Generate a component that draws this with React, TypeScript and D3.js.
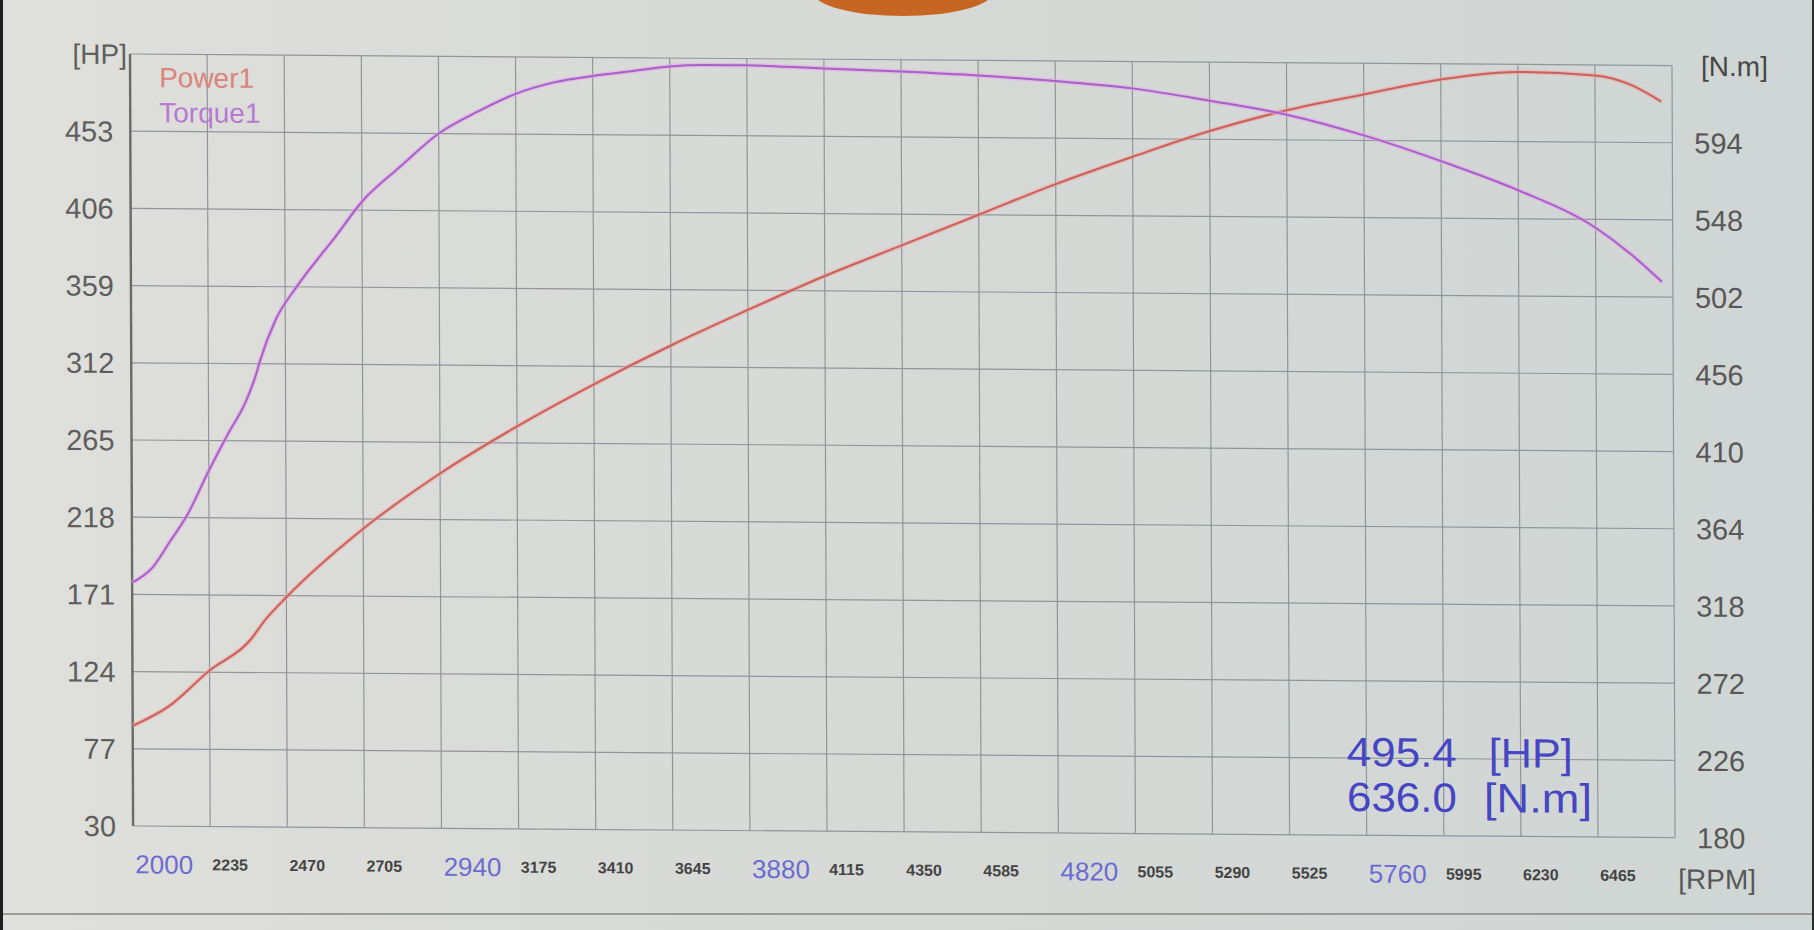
import React from 'react';
import * as d3 from 'd3';

// ---- data read from the dyno sheet ----
const rpmTicks = [2000, 2235, 2470, 2705, 2940, 3175, 3410, 3645, 3880, 4115, 4350, 4585, 4820, 5055, 5290, 5525, 5760, 5995, 6230, 6465];
const rpmMajor = [2000, 2940, 3880, 4820, 5760];
const hpTicks = [30, 77, 124, 171, 218, 265, 312, 359, 406, 453];
const nmTicks = [180, 226, 272, 318, 364, 410, 456, 502, 548, 594];

const rpmPower = [2000, 2110, 2235, 2356, 2409, 2470, 2705, 2940, 3175, 3410, 3645, 3880, 4115, 4350, 4585, 4820, 5055, 5290, 5525, 5760, 5995, 6230, 6465, 6569, 6667];
const powerHP = [91, 103, 125, 143, 157, 170, 212, 246, 275, 301, 325, 347, 368, 387, 406, 425, 442, 458, 471, 481, 490.5, 495.4, 493.6, 488.5, 478];

const rpmTorque = [2000, 2062, 2117, 2170, 2235, 2294, 2350, 2381, 2393, 2440, 2505, 2583, 2620, 2705, 2822, 2940, 3057, 3175, 3292, 3410, 3527, 3645, 3760, 3880, 4000, 4115, 4350, 4585, 4820, 5055, 5290, 5525, 5760, 5995, 6230, 6465, 6569, 6667];
const torqueNm = [325, 334, 350, 366, 392, 414, 434, 450, 458, 482, 502, 522, 531, 553, 574, 594, 607, 618, 625, 629, 632, 635, 636, 636, 635.3, 634.5, 633, 631, 628, 624, 617, 609, 597, 582, 565, 543, 528, 511];

const seriesNames = ['Power1', 'Torque1'];
const peakHP = '495.4';
const peakNm = '636.0';

const FONT = 'Liberation Sans, Arial, sans-serif';

export default function App() {
  const Wd = 1814;
  const Ht = 930;
  const W = 1542;
  const H = 772;
  const rpmMax = 6700;

  const x = d3.scaleLinear().domain([2000, rpmMax]).range([0, W]);
  const yHP = d3.scaleLinear().domain([30, 500]).range([H, 0]);
  const yNm = d3.scaleLinear().domain([180, 640]).range([H, 0]);

  const powerPath = d3
    .line<number>()
    .x((_, i) => x(rpmPower[i]))
    .y((d) => yHP(d))
    .curve(d3.curveMonotoneX)(powerHP) as string;
  const torquePath = d3
    .line<number>()
    .x((_, i) => x(rpmTorque[i]))
    .y((d) => yNm(d))
    .curve(d3.curveMonotoneX)(torqueNm) as string;

  const vGrid = [...rpmTicks, rpmMax];
  const hGrid = [...hpTicks, 500];

  const powerCol = '#c9625c';
  const torqueCol = '#a662c4';
  const gridCol = '#90969a';
  const readCol = '#4646c4';

  return (
    <svg
      width={Wd}
      height={Ht}
      style={{ position: 'absolute', left: 0, top: 0, display: 'block' }}
    >
      <defs>
        <linearGradient id="bg" x1="0" y1="0" x2="1" y2="0">
          <stop offset="0" stopColor="#dfdfdb" />
          <stop offset="0.5" stopColor="#d6d9d6" />
          <stop offset="1" stopColor="#d0d6d5" />
        </linearGradient>
      </defs>
      <rect x={0} y={0} width={Wd} height={Ht} fill="url(#bg)" />
      <ellipse cx={903} cy={-8} rx={90} ry={24} fill="#c76623" />
      <line x1={0} x2={Wd} y1={914} y2={914} stroke="#9a9c9a" strokeWidth={2} />
      <rect x={0} y={0} width={3} height={Ht} fill="#1e1e1e" />
      <rect x={Wd - 2} y={0} width={2} height={Ht} fill="#2a2a2a" />

      <g transform="matrix(1,0.0075,0.004,1,130,54)">
        {/* grid */}
        {vGrid.map((r) => (
          <line
            key={'v' + r}
            x1={x(r)}
            x2={x(r)}
            y1={0}
            y2={H}
            stroke={gridCol}
            strokeWidth={1.2}
          />
        ))}
        {hGrid.map((v) => (
          <line
            key={'h' + v}
            x1={0}
            x2={W}
            y1={yHP(v)}
            y2={yHP(v)}
            stroke={gridCol}
            strokeWidth={1.2}
          />
        ))}
        <line x1={0} x2={0} y1={0} y2={H} stroke="#6a6a6a" strokeWidth={2.4} />

        {/* curves */}
        <path d={powerPath} fill="none" stroke="#f0a4a0" strokeOpacity={0.6} strokeWidth={4.5} />
        <path d={powerPath} fill="none" stroke={powerCol} strokeWidth={2} />
        <path d={torquePath} fill="none" stroke="#e6a2ec" strokeOpacity={0.6} strokeWidth={4.5} />
        <path d={torquePath} fill="none" stroke={torqueCol} strokeWidth={2} />

        {/* left axis labels */}
        {hpTicks.map((v) => (
          <text
            key={'hl' + v}
            x={-17}
            y={yHP(v)}
            dy="0.36em"
            textAnchor="end"
            fontFamily={FONT}
            fontSize={29}
            fill="#5e5e5e"
          >
            {v}
          </text>
        ))}
        <text x={-3} y={yHP(500)} dy="0.36em" textAnchor="end" fontFamily={FONT} fontSize={28} fill="#5e5e5e">
          [HP]
        </text>

        {/* right axis labels */}
        {nmTicks.map((v) => (
          <text
            key={'nl' + v}
            x={W + 22}
            y={yNm(v)}
            dy="0.36em"
            textAnchor="start"
            fontFamily={FONT}
            fontSize={29}
            fill="#585858"
          >
            {v}
          </text>
        ))}
        <text x={W + 29} y={yNm(640)} dy="0.36em" fontFamily={FONT} fontSize={28} fill="#474747">
          [N.m]
        </text>

        {/* x axis labels */}
        {rpmTicks.map((r) => {
          const major = rpmMajor.includes(r);
          return (
            <text
              key={'xl' + r}
              x={x(r) + 2}
              y={H + 38}
              dy="0.36em"
              fontFamily={FONT}
              fontSize={major ? 26 : 16}
              fontWeight={major ? 'normal' : 'bold'}
              fill={major ? '#6b6bd2' : '#444'}
            >
              {r}
            </text>
          );
        })}
        <text x={W + 3} y={H + 41} dy="0.36em" fontFamily={FONT} fontSize={28} fill="#585858">
          [RPM]
        </text>

        {/* legend */}
        <text x={29} y={33} fontFamily={FONT} fontSize={28} fill="#d9847c">
          {seriesNames[0]}
        </text>
        <text x={29} y={68} fontFamily={FONT} fontSize={28} fill="#b67ad2">
          {seriesNames[1]}
        </text>

        {/* peak readout */}
        <text x={1214} y={H - 69} fontFamily={FONT} fontSize={41} fill={readCol} textLength={110} lengthAdjust="spacingAndGlyphs">
          {peakHP}
        </text>
        <text x={1356} y={H - 69} fontFamily={FONT} fontSize={41} fill={readCol} textLength={84} lengthAdjust="spacingAndGlyphs">
          [HP]
        </text>
        <text x={1214} y={H - 24} fontFamily={FONT} fontSize={41} fill={readCol} textLength={110} lengthAdjust="spacingAndGlyphs">
          {peakNm}
        </text>
        <text x={1351} y={H - 24} fontFamily={FONT} fontSize={41} fill={readCol} textLength={108} lengthAdjust="spacingAndGlyphs">
          [N.m]
        </text>
      </g>
    </svg>
  );
}
